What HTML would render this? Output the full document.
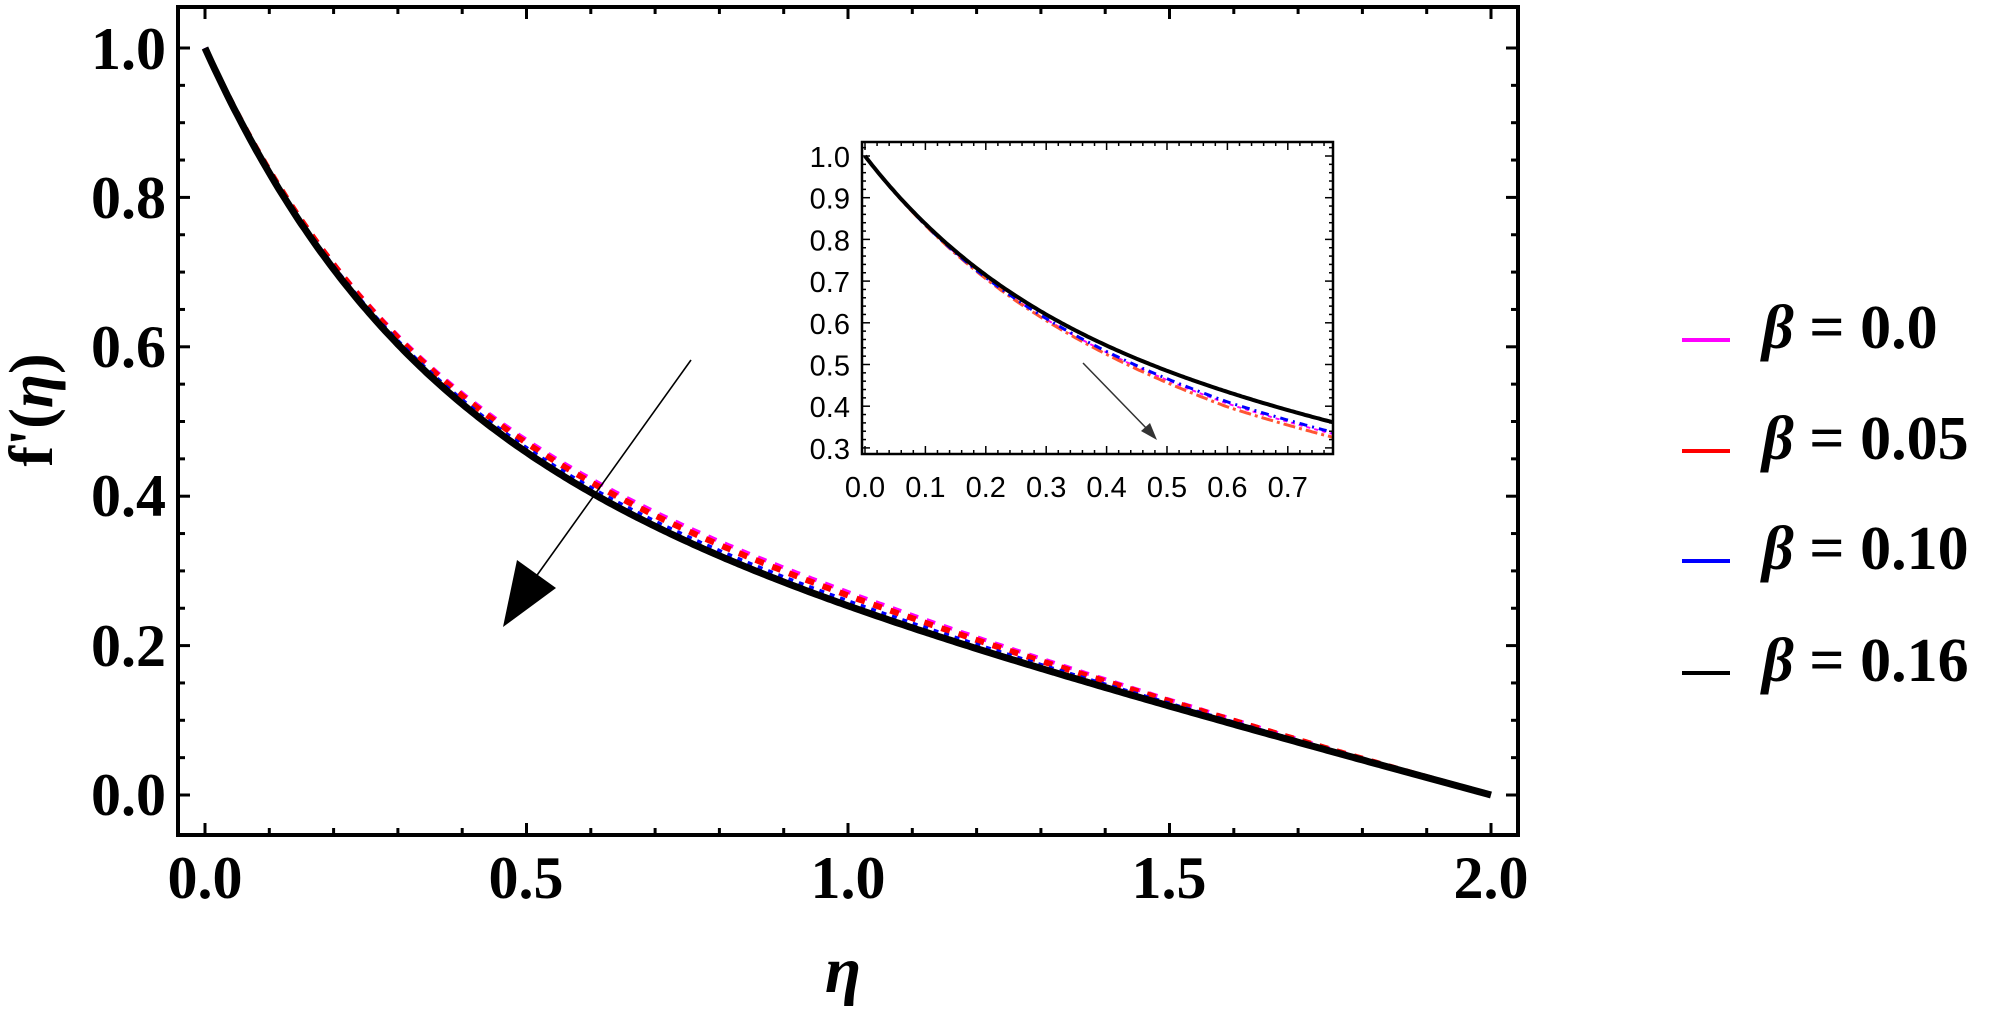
<!DOCTYPE html>
<html><head><meta charset="utf-8"><style>
html,body{margin:0;padding:0;background:#fff;}
svg{display:block;}
.s{font-family:"Liberation Serif",serif;font-weight:bold;}
.a{font-family:"Liberation Sans",sans-serif;}
</style></head><body>
<svg id="c" width="2008" height="1011" viewBox="0 0 2008 1011" xmlns="http://www.w3.org/2000/svg">
<rect width="2008" height="1011" fill="#fff"/>
<g id="main"></g>
<rect x="178" y="7" width="1340" height="828" fill="none" stroke="#000" stroke-width="4"/>
<g id="ticks" stroke="#000"></g>
<g class="s" font-size="60" fill="#000" text-anchor="end">
<text x="166" y="69">1.0</text>
<text x="166" y="218">0.8</text>
<text x="166" y="367">0.6</text>
<text x="166" y="516">0.4</text>
<text x="166" y="666">0.2</text>
<text x="166" y="815">0.0</text>
</g>
<g class="s" font-size="60" fill="#000" text-anchor="middle">
<text x="205" y="898">0.0</text>
<text x="526" y="898">0.5</text>
<text x="848" y="898">1.0</text>
<text x="1169" y="898">1.5</text>
<text x="1491" y="898">2.0</text>
</g>
<text class="s" font-size="66" font-style="italic" x="843" y="992" text-anchor="middle">η</text>
<text class="s" font-size="62" transform="translate(52,410) rotate(-90)" text-anchor="middle">f'(<tspan font-style="italic">η</tspan>)</text>
<line x1="691" y1="360" x2="530" y2="585" stroke="#000" stroke-width="1.6"/>
<polygon points="503,627 517,560 556,588" fill="#000"/>
<rect x="862" y="142" width="471" height="312" fill="#fff"/>
<g id="inset"></g>
<rect x="862" y="142" width="471" height="312" fill="none" stroke="#000" stroke-width="2.5"/>
<g id="iticks" stroke="#000" stroke-width="1.5"></g>
<g class="a" font-size="29" fill="#000" text-anchor="end" id="iyl"></g>
<g class="a" font-size="29" fill="#000" text-anchor="middle" id="ixl"></g>
<line x1="1083" y1="363" x2="1150" y2="432" stroke="#333" stroke-width="1.5"/>
<polygon points="1157,440 1141,431 1150,423" fill="#333"/>
<g stroke-width="4">
<line x1="1682" y1="340" x2="1730" y2="340" stroke="#ff00ff"/>
<line x1="1682" y1="451" x2="1730" y2="451" stroke="#ff0000"/>
<line x1="1682" y1="561" x2="1730" y2="561" stroke="#0000ff"/>
<line x1="1682" y1="673" x2="1730" y2="673" stroke="#000"/>
</g>
<g class="s" font-size="62" fill="#000">
<text x="1762" y="348"><tspan font-style="italic">β</tspan> = 0.0</text>
<text x="1762" y="459"><tspan font-style="italic">β</tspan> = 0.05</text>
<text x="1762" y="569"><tspan font-style="italic">β</tspan> = 0.10</text>
<text x="1762" y="681"><tspan font-style="italic">β</tspan> = 0.16</text>
</g>
</svg>
<script>
(function(){
var NS="http://www.w3.org/2000/svg";
function el(p,t,a){var e=document.createElementNS(NS,t);for(var k in a)e.setAttribute(k,a[k]);p.appendChild(e);return e;}
function Fm(e){var k=3.1,B=0.23,A=1-2*B,c=Math.exp(-2*k);return A*(Math.exp(-k*e)-c)/(1-c)+B*(2-e);}
function Fi(e){var k=3.5,B=0.27,A=1-2*B;return A*Math.exp(-k*e)+B*(2-e);}
var g=document.getElementById('main');
function X(e){return 205+643*e;} function Y(v){return 795-747*v;}
var series=[["#ff00ff",0.020,"9,9",4],["#ff0000",0.015,"9,9",6],["#0000ff",0.006,"5,6",5],["#000",0,null,7]];
series.forEach(function(s){
  var d="";
  for(var i=0;i<=400;i++){var e=2*i/400;var v=Fm(e)+s[1]*Math.sin(Math.PI*e/2)*Math.pow(1-e/2,0.6)*1.4;
    d+=(i?"L":"M")+X(e).toFixed(1)+","+Y(v).toFixed(1);}
  var a={d:d,fill:"none",stroke:s[0],"stroke-width":s[3]};
  if(s[2])a["stroke-dasharray"]=s[2];
  el(g,"path",a);
});
var t=document.getElementById('ticks');
for(var k=0;k<=20;k++){var e=k*0.1;var x=X(e);var L=(k%5==0)?12:7;
  el(t,"line",{x1:x,y1:835,x2:x,y2:835-L,"stroke-width":3});
  el(t,"line",{x1:x,y1:7,x2:x,y2:7+L,"stroke-width":3});}
for(var k=0;k<=20;k++){var v=k*0.05;var y=Y(v);var L=(k%4==0)?12:7;
  el(t,"line",{x1:178,y1:y,x2:178+L,y2:y,"stroke-width":3});
  el(t,"line",{x1:1518,y1:y,x2:1518-L,y2:y,"stroke-width":3});}
function IX(e){return 865+604*e;} function IY(v){return 156-(v-1)*417;}
var ig=document.getElementById('inset');
var is=[["#ff00ff",-0.028,"4,4",2],["#ff5533",-0.036,"12,4,3,4",3],["#0000ff",-0.024,"8,5,2,5",3],["#000",0,null,4]];
is.forEach(function(s){
  var d="";
  for(var i=0;i<=200;i++){var e=0.775*i/200;var v=Fi(e)+s[1]*Math.min(1,Math.pow(e/0.6,1.3));
    d+=(i?"L":"M")+IX(e).toFixed(1)+","+IY(v).toFixed(1);}
  var a={d:d,fill:"none",stroke:s[0],"stroke-width":s[3]};
  if(s[2])a["stroke-dasharray"]=s[2];
  el(ig,"path",a);
});
var it=document.getElementById('iticks');
for(var k=0;k<=38;k++){var e=k*0.02;var x=IX(e);if(x>1332)break;var L=(k%5==0)?8:4;
  el(it,"line",{x1:x,y1:454,x2:x,y2:454-L});el(it,"line",{x1:x,y1:142,x2:x,y2:142+L});}
for(var k=0;k<=36;k++){var v=0.3+k*0.02;var y=IY(v);if(y<143)break;var L=(k%5==0)?8:4;
  el(it,"line",{x1:862,y1:y,x2:862+L,y2:y});el(it,"line",{x1:1333,y1:y,x2:1333-L,y2:y});}
var yl=document.getElementById('iyl');
for(var k=0;k<=7;k++){var v=0.3+k*0.1;var tx=el(yl,"text",{x:850,y:(IY(v)+11).toFixed(1)});tx.textContent=v.toFixed(1);}
var xl=document.getElementById('ixl');
for(var k=0;k<=7;k++){var tx=el(xl,"text",{x:IX(k*0.1).toFixed(1),y:497});tx.textContent=(k*0.1).toFixed(1);}
})();
</script>
</body></html>
